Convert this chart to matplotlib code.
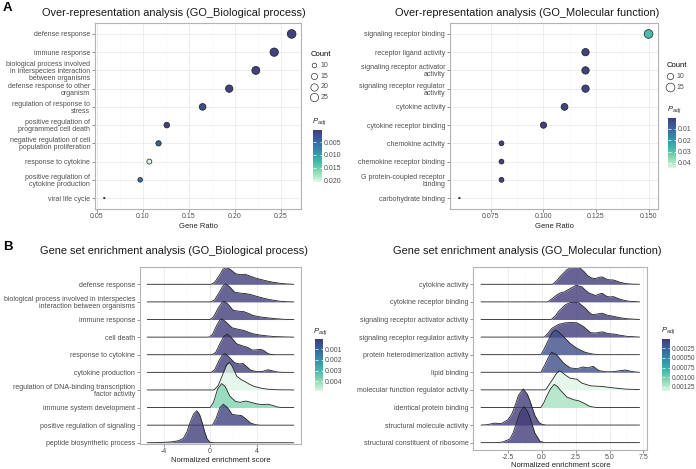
import numpy as np
import matplotlib
matplotlib.use("Agg")
import matplotlib.pyplot as plt
from matplotlib.colors import LinearSegmentedColormap, Normalize
from matplotlib.cm import ScalarMappable

plt.rcParams['font.family'] = ['Liberation Sans', 'DejaVu Sans']
plt.rcParams['mathtext.fontset'] = 'custom'
plt.rcParams['mathtext.it'] = 'Liberation Sans:italic'
plt.rcParams['mathtext.rm'] = 'Liberation Sans'

# ---- data: over-representation, biological process ----
bp_terms = ["defense response", "immune response",
            "biological process involved\nin interspecies interaction\nbetween organisms",
            "defense response to other\norganism", "regulation of response to\nstress",
            "positive regulation of\nprogrammed cell death",
            "negative regulation of cell\npopulation proliferation",
            "response to cytokine", "positive regulation of\ncytokine production",
            "viral life cycle"]
bp_ratio = [0.262, 0.243, 0.223, 0.194, 0.165, 0.126, 0.117, 0.107, 0.097, 0.058]
bp_count = [27, 25, 23, 20, 17, 13, 12, 11, 10, 6]
bp_padj = [0.0008, 0.0008, 0.0008, 0.0009, 0.0020, 0.0010, 0.0040, 0.0206, 0.0058, 0.0075]

# ---- data: over-representation, molecular function ----
mf_terms = ["signaling receptor binding", "receptor ligand activity",
            "signaling receptor activator\nactivity", "signaling receptor regulator\nactivity",
            "cytokine activity", "cytokine receptor binding", "chemokine activity",
            "chemokine receptor binding", "G protein-coupled receptor\nbinding",
            "carbohydrate binding"]
mf_ratio = [0.15, 0.12, 0.12, 0.12, 0.11, 0.10, 0.08, 0.08, 0.08, 0.06]
mf_count = [15, 12, 12, 12, 11, 10, 8, 8, 8, 6]
mf_padj = [0.028, 0.002, 0.002, 0.002, 0.002, 0.002, 0.002, 0.002, 0.002, 0.002]

# ---- data: GSEA, biological process (ridge outlines read as (NES, height) knots) ----
gbp_terms = ["defense response",
             "biological process involved in interspecies\ninteraction between organisms",
             "immune response", "cell death", "response to cytokine", "cytokine production",
             "regulation of DNA-binding transcription\nfactor activity",
             "immune system development", "positive regulation of signaling",
             "peptide biosynthetic process"]
gbp_padj = [0.0001, 0.0001, 0.0001, 0.0001, 0.0001, 0.0001, 0.0049, 0.0038, 0.0002, 0.0001]
gbp_ridges = [
    [(-5.4, 0), (0.1, 0), (0.4, 0.12), (0.8, 0.5), (1.1, 0.85), (1.43, 0.98), (1.8, 0.82), (2.2, 0.6), (2.6, 0.55), (3.0, 0.57), (3.4, 0.48), (3.9, 0.36), (4.4, 0.27), (4.9, 0.19), (5.4, 0.12), (6.0, 0.06), (6.6, 0.02), (7.2, 0)],
    [(-5.4, 0), (0.1, 0), (0.4, 0.12), (0.8, 0.55), (1.1, 0.9), (1.37, 1.02), (1.7, 0.85), (2.1, 0.56), (2.6, 0.5), (3.1, 0.47), (3.6, 0.4), (4.0, 0.32), (4.5, 0.23), (5.0, 0.15), (5.5, 0.09), (6.0, 0.04), (6.6, 0.01), (7.2, 0)],
    [(-5.4, 0), (0.0, 0), (0.3, 0.15), (0.7, 0.65), (1.0, 0.95), (1.2, 1.04), (1.5, 0.9), (2.0, 0.52), (2.5, 0.47), (2.9, 0.45), (3.3, 0.35), (3.7, 0.23), (4.3, 0.15), (4.9, 0.1), (5.6, 0.05), (6.4, 0.01), (7.2, 0)],
    [(-5.4, 0), (-0.1, 0), (0.2, 0.15), (0.6, 0.7), (0.85, 0.98), (1.0, 1.04), (1.3, 0.9), (1.9, 0.53), (2.4, 0.45), (2.9, 0.38), (3.3, 0.28), (3.7, 0.19), (4.3, 0.12), (4.9, 0.07), (5.6, 0.03), (6.5, 0.01), (7.2, 0)],
    [(-5.4, 0), (0.2, 0), (0.5, 0.15), (0.9, 0.7), (1.2, 1.05), (1.49, 1.17), (1.8, 1.0), (2.3, 0.62), (2.8, 0.5), (3.2, 0.43), (3.6, 0.27), (3.9, 0.27), (4.3, 0.31), (4.6, 0.25), (4.9, 0.1), (5.2, 0.02), (5.6, 0), (7.2, 0)],
    [(-5.4, 0), (0.1, 0), (0.4, 0.15), (0.8, 0.7), (1.05, 0.98), (1.29, 1.06), (1.6, 0.9), (2.1, 0.55), (2.5, 0.48), (2.85, 0.5), (3.2, 0.3), (3.5, 0.12), (4.0, 0.04), (4.5, 0.05), (5.0, 0.15), (5.4, 0.08), (5.8, 0.02), (6.3, 0), (7.2, 0)],
    [(-5.4, 0), (0.35, 0), (0.7, 0.25), (1.1, 0.9), (1.4, 1.4), (1.66, 1.57), (1.9, 1.35), (2.3, 0.78), (2.7, 0.58), (3.0, 0.48), (3.4, 0.32), (3.8, 0.2), (4.4, 0.1), (5.0, 0.04), (5.8, 0.01), (7.2, 0)],
    [(-5.4, 0), (0.0, 0), (0.3, 0.3), (0.65, 1.05), (1.0, 1.36), (1.3, 1.2), (1.71, 0.64), (2.2, 0.34), (2.6, 0.3), (3.1, 0.37), (3.5, 0.3), (4.0, 0.21), (4.5, 0.17), (5.0, 0.19), (5.4, 0.12), (5.8, 0.03), (6.2, 0), (7.2, 0)],
    [(-5.4, 0), (0.2, 0), (0.5, 0.35), (0.85, 1.0), (1.14, 1.19), (1.5, 1.0), (1.9, 0.62), (2.3, 0.57), (2.7, 0.55), (3.1, 0.35), (3.5, 0.12), (3.9, 0.03), (4.3, 0), (7.2, 0)],
    [(-5.4, 0), (-4.5, 0.01), (-3.3, 0.05), (-2.7, 0.12), (-2.3, 0.25), (-2.0, 0.6), (-1.7, 1.19), (-1.4, 1.65), (-1.14, 1.82), (-0.9, 1.6), (-0.7, 1.19), (-0.45, 0.6), (-0.25, 0.22), (0.0, 0.03), (0.3, 0), (7.2, 0)],
]

# ---- data: GSEA, molecular function ----
gmf_terms = ["cytokine activity", "cytokine receptor binding",
             "signaling receptor activator activity", "signaling receptor regulator activity",
             "protein heterodimerization activity", "lipid binding",
             "molecular function regulator activity", "identical protein binding",
             "structural molecule activity", "structural constituent of ribosome"]
gmf_padj = [0.00001, 0.00001, 0.00001, 0.00001, 0.00013, 0.00013, 0.00136, 0.00118, 0.00001, 0.00001]
gmf_ridges = [
    [(-4.45, 0), (0.8, 0), (1.1, 0.2), (1.4, 0.47), (1.86, 0.83), (2.2, 0.97), (2.48, 1.0), (2.8, 0.94), (3.1, 0.74), (3.4, 0.48), (3.7, 0.35), (3.97, 0.33), (4.25, 0.4), (4.46, 0.42), (4.75, 0.3), (5.0, 0.25), (5.25, 0.25), (5.5, 0.19), (5.75, 0.12), (6.2, 0.04), (6.7, 0.01), (7.2, 0)],
    [(-4.45, 0), (0.45, 0), (0.8, 0.2), (1.16, 0.42), (1.45, 0.53), (1.65, 0.56), (2.1, 0.76), (2.55, 0.95), (2.97, 0.85), (3.25, 0.65), (3.47, 0.51), (3.97, 0.36), (4.25, 0.45), (4.46, 0.49), (4.75, 0.33), (5.0, 0.28), (5.3, 0.3), (5.6, 0.2), (5.9, 0.12), (6.4, 0.04), (7.2, 0)],
    [(-4.45, 0), (0.7, 0), (1.0, 0.2), (1.24, 0.45), (1.73, 0.83), (2.1, 0.96), (2.35, 0.98), (2.73, 0.95), (3.22, 0.64), (3.5, 0.4), (3.72, 0.28), (4.0, 0.3), (4.46, 0.36), (4.8, 0.25), (5.3, 0.18), (5.7, 0.11), (6.3, 0.04), (7.2, 0)],
    [(-4.45, 0), (0.2, 0), (0.5, 0.25), (0.74, 0.49), (1.24, 0.72), (1.73, 0.81), (2.2, 0.83), (2.6, 0.81), (3.1, 0.59), (3.4, 0.38), (3.6, 0.25), (3.97, 0.23), (4.46, 0.3), (4.9, 0.2), (5.35, 0.17), (5.8, 0.1), (6.3, 0.04), (7.2, 0)],
    [(-4.45, 0), (-0.05, 0), (0.2, 0.35), (0.5, 0.83), (0.75, 1.2), (1.0, 1.4), (1.25, 1.3), (1.49, 1.12), (1.8, 0.88), (2.1, 0.64), (2.6, 0.36), (3.22, 0.13), (3.8, 0.03), (4.3, 0), (7.2, 0)],
    [(-4.45, 0), (-0.05, 0), (0.25, 0.44), (0.5, 0.85), (0.74, 1.14), (1.1, 1.0), (1.6, 0.53), (2.1, 0.25), (2.6, 0.2), (3.05, 0.3), (3.4, 0.25), (3.79, 0.34), (4.2, 0.1), (4.7, 0.03), (5.2, 0.03), (5.7, 0.08), (6.15, 0.13), (6.6, 0.05), (7.0, 0.01), (7.2, 0)],
    [(-4.45, 0), (0.3, 0), (0.55, 0.3), (0.87, 0.66), (1.1, 0.95), (1.31, 1.08), (1.5, 1.0), (1.73, 0.85), (2.1, 0.66), (2.6, 0.6), (2.97, 0.38), (3.6, 0.23), (4.46, 0.19), (5.3, 0.11), (6.2, 0.04), (7.2, 0.02)],
    [(-4.45, 0), (-0.05, 0), (0.15, 0.25), (0.37, 0.63), (0.65, 1.05), (0.92, 1.31), (1.15, 1.2), (1.36, 1.0), (1.86, 0.59), (2.35, 0.44), (2.73, 0.38), (3.1, 0.25), (3.4, 0.12), (3.6, 0.05), (4.0, 0), (7.2, 0)],
    [(-4.45, 0), (-4.0, 0.02), (-3.47, 0.11), (-2.97, 0.08), (-2.48, 0.3), (-2.2, 0.62), (-1.98, 1.05), (-1.7, 1.7), (-1.36, 2.05), (-1.05, 1.75), (-0.87, 1.4), (-0.5, 0.55), (-0.2, 0.15), (0.0, 0.05), (0.3, 0), (7.2, 0)],
    [(-4.45, 0), (-3.3, 0), (-2.85, 0.04), (-2.35, 0.2), (-2.1, 0.55), (-1.86, 1.1), (-1.6, 1.7), (-1.31, 2.05), (-1.05, 1.8), (-0.87, 1.45), (-0.5, 0.55), (-0.12, 0.08), (0.2, 0), (7.2, 0)],
]

# mako-like palette (low p dark, high p light)
cmap = LinearSegmentedColormap.from_list(
    "mako_part", ["#413D7B", "#37659E", "#348FA7", "#40B7AD", "#8AD9B1", "#DEF5E5"])

W, H = 696, 469
fig = plt.figure(figsize=(W / 100, H / 100), dpi=100)

TXT = '#4D4D4D'
BORDER = '#B3B3B3'


def pax(l, t, r, b):
    return fig.add_axes([l / W, 1 - b / H, (r - l) / W, (b - t) / H])


def style(ax):
    for s in ax.spines.values():
        s.set_color(BORDER)
        s.set_linewidth(0.8)
    ax.tick_params(labelsize=5, labelcolor=TXT, length=2, width=0.5, color='#666666', pad=1.5)
    ax.tick_params(axis='x', pad=1.0)
    ax.set_axisbelow(True)


def dot_size(c, cmin, cmax):
    d = 1 + 5 * np.sqrt((c - cmin) / (cmax - cmin))
    return (1.044 * d) ** 2


def add_colorbar(box, norm, ticks, labels, lab_xy, fs=5):
    cax = pax(*box)
    cb = fig.colorbar(ScalarMappable(norm=norm, cmap=cmap), cax=cax)
    cb.outline.set_visible(False)
    cb.set_ticks(ticks)
    cb.set_ticklabels(labels)
    cax.invert_yaxis()
    cax.tick_params(axis='y', direction='in', length=1.8, width=0.5, color='white',
                    labelsize=fs, labelcolor=TXT, pad=1.2, left=True, right=True)
    fig.text(lab_xy[0] / W, 1 - lab_xy[1] / H, r'$P_{adj}$', fontsize=5.5, va='center', color='#222222')


def dot_panel(box, terms, ratio, count, padj, norm, xticks, xlabels, legend_levels, leg_xy):
    ax = pax(*box)
    style(ax)
    n = len(terms)
    ypos = np.arange(n)[::-1]
    cmin, cmax = min(count), max(count)
    ax.scatter(ratio, ypos, s=[dot_size(c, cmin, cmax) for c in count],
               c=padj, cmap=cmap, norm=norm, edgecolors='#1A1A1A', linewidths=0.5, zorder=3)
    span = max(ratio) - min(ratio)
    ax.set_xlim(min(ratio) - 0.05 * span, max(ratio) + 0.05 * span)
    ax.set_ylim(-0.6, n - 0.4)
    ax.set_yticks(ypos)
    ax.set_yticklabels(terms, linespacing=1.0)
    ax.set_xticks(xticks)
    ax.set_xticklabels(xlabels)
    ax.set_xticks([(a + b) / 2 for a, b in zip(xticks[:-1], xticks[1:])], minor=True)
    ax.tick_params(axis='x', which='minor', length=0)
    ax.grid(True, which='major', color='#EBEBEB', lw=0.6)
    ax.grid(True, which='minor', axis='x', color='#F5F5F5', lw=0.4)
    ax.set_xlabel('Gene Ratio', fontsize=5.5, color='#222222', labelpad=2)
    handles = [ax.scatter([], [], s=dot_size(c, cmin, cmax), facecolor='white',
                          edgecolor='#333333', linewidths=0.5) for c in legend_levels]
    leg = ax.legend(handles, [str(c) for c in legend_levels], title='Count', loc='upper left',
                    bbox_to_anchor=(leg_xy[0] / W, 1 - leg_xy[1] / H), bbox_transform=fig.transFigure,
                    frameon=False, fontsize=5, title_fontsize=5.5, handletextpad=0.4,
                    labelspacing=0.55, borderpad=0, borderaxespad=0, handlelength=1.0,
                    alignment='left')
    for t in leg.get_texts():
        t.set_color(TXT)
    return ax


def ridge_panel(box, terms, ridges, padj, norm, xlim, ylim, xticks, xlabels):
    ax = pax(*box)
    style(ax)
    n = len(terms)
    for i, pts in enumerate(ridges):
        y0 = n - 1 - i
        xs = np.array([p[0] for p in pts])
        hs = np.array([p[1] for p in pts])
        ax.fill_between(xs, y0, y0 + hs, color=cmap(norm(padj[i])), alpha=0.8, lw=0, zorder=2 + i)
        ax.plot(xs, y0 + hs, color='#222222', lw=0.6, zorder=2 + i, solid_joinstyle='round')
    ax.set_xlim(*xlim)
    ax.set_ylim(*ylim)
    ax.set_yticks(np.arange(n)[::-1])
    ax.set_yticklabels(terms, linespacing=1.0)
    ax.set_xticks(xticks)
    ax.set_xticklabels(xlabels)
    ax.set_xticks([(a + b) / 2 for a, b in zip(xticks[:-1], xticks[1:])], minor=True)
    ax.tick_params(axis='x', which='minor', length=0)
    ax.grid(True, which='major', axis='x', color='#EBEBEB', lw=0.6)
    ax.grid(True, which='minor', axis='x', color='#F5F5F5', lw=0.4)
    ax.set_xlabel('Normalized enrichment score', fontsize=5.5, color='#222222', labelpad=1)
    return ax


# panel A
norm_bp = Normalize(0.0003, 0.0206)
dot_panel((95, 23, 301, 209), bp_terms, bp_ratio, bp_count, bp_padj, norm_bp,
          [0.05, 0.10, 0.15, 0.20, 0.25], ['0.05', '0.10', '0.15', '0.20', '0.25'],
          [10, 15, 20, 25], (311, 51))
add_colorbar((313, 130, 322, 182), norm_bp, [0.005, 0.010, 0.015, 0.020],
             ['0.005', '0.010', '0.015', '0.020'], (312, 122))

norm_mf = Normalize(0.0005, 0.0445)
dot_panel((450, 23, 658, 209), mf_terms, mf_ratio, mf_count, mf_padj, norm_mf,
          [0.075, 0.100, 0.125, 0.150], ['0.075', '0.100', '0.125', '0.150'],
          [10, 15], (667, 62))
add_colorbar((668, 118, 676, 168), norm_mf, [0.01, 0.02, 0.03, 0.04],
             ['0.01', '0.02', '0.03', '0.04'], (667, 110))

# panel B
norm_gbp = Normalize(0.00005, 0.0049)
ridge_panel((140, 266.7, 301, 444), gbp_terms, gbp_ridges, gbp_padj, norm_gbp,
            (-6.03, 7.83), (-0.07, 10.0), [-4, 0, 4], ['-4', '0', '4'])
add_colorbar((315, 339, 323, 391), norm_gbp, [0.001, 0.002, 0.003, 0.004],
             ['0.001', '0.002', '0.003', '0.004'], (313, 332))

norm_gmf = Normalize(0.00001, 0.00136)
ridge_panel((473.3, 266.7, 647.3, 449.5), gmf_terms, gmf_ridges, gmf_padj, norm_gmf,
            (-5.03, 7.78), (-0.39, 10.0), [-2.5, 0, 2.5, 5.0, 7.5],
            ['-2.5', '0.0', '2.5', '5.0', '7.5'])
add_colorbar((662, 339, 670, 391), norm_gmf, [0.00025, 0.0005, 0.00075, 0.001, 0.00125],
             ['0.00025', '0.00050', '0.00075', '0.00100', '0.00125'], (661, 331), fs=4.7)

# titles and panel letters
fig.text(174 / W, 1 - 12.7 / H, 'Over-representation analysis (GO_Biological process)',
         fontsize=7.9, ha='center', va='center', color='#1A1A1A')
fig.text(527 / W, 1 - 12.7 / H, 'Over-representation analysis (GO_Molecular function)',
         fontsize=7.9, ha='center', va='center', color='#1A1A1A')
fig.text(174 / W, 1 - 250.5 / H, 'Gene set enrichment analysis (GO_Biological process)',
         fontsize=7.9, ha='center', va='center', color='#1A1A1A')
fig.text(527 / W, 1 - 250.5 / H, 'Gene set enrichment analysis (GO_Molecular function)',
         fontsize=7.9, ha='center', va='center', color='#1A1A1A')
fig.text(3 / W, 1 - 8 / H, 'A', fontsize=9.5, weight='bold', va='center')
fig.text(3 / W, 1 - 247 / H, 'B', fontsize=9.5, weight='bold', va='center')

fig.savefig('out.png', dpi=100)
